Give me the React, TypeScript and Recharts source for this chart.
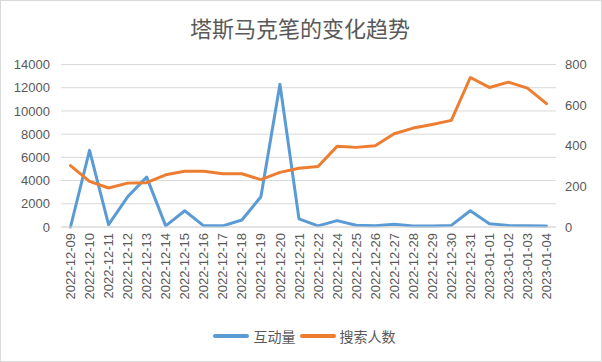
import React from "react";
import {
  LineChart,
  Line,
  XAxis,
  YAxis,
  CartesianGrid,
  Legend,
} from "recharts";

const dates = [
  "2022-12-09", "2022-12-10", "2022-12-11", "2022-12-12", "2022-12-13",
  "2022-12-14", "2022-12-15", "2022-12-16", "2022-12-17", "2022-12-18",
  "2022-12-19", "2022-12-20", "2022-12-21", "2022-12-22", "2022-12-24",
  "2022-12-25", "2022-12-26", "2022-12-27", "2022-12-28", "2022-12-29",
  "2022-12-30", "2022-12-31", "2023-01-01", "2023-01-02", "2023-01-03",
  "2023-01-04",
];

// 互动量 (left axis)
const interactions = [
  0, 6600, 200, 2600, 4300, 100, 1400, 100, 100, 600, 2600, 12300, 700,
  100, 550, 150, 100, 230, 80, 80, 140, 1400, 290, 140, 110, 80,
];

// 搜索人数 (right axis)
const searchers = [
  302, 225, 192, 216, 218, 257, 274, 274, 262, 262, 233, 269, 289,
  298, 397, 392, 400, 459, 487, 505, 525, 736, 687, 713, 684, 607,
];

const leftTicks = [0, 2000, 4000, 6000, 8000, 10000, 12000, 14000];
const rightTicks = [0, 100, 200, 300, 400, 500, 600, 700, 800];

const BLUE = "#5B9BD5";
const ORANGE = "#ED7D31";
const TEXT = "#595959";
const tickFont = { fontFamily: "Liberation Sans", fontSize: 13, fill: TEXT };

const data = dates.map((d, i) => ({
  date: d,
  interactions: interactions[i],
  searchers: searchers[i],
}));

const DateTick = (props: any) => {
  const { x, y, payload } = props;
  return (
    <g transform={`translate(${x},${y - 2})`}>
      <text
        transform="rotate(-90)"
        textAnchor="end"
        dy="0.35em"
        {...tickFont}
      >
        {payload.value}
      </text>
    </g>
  );
};

const LegendContent = () => (
  <div
    style={{
      height: 24,
      display: "flex",
      alignItems: "center",
      justifyContent: "center",
      fontFamily: "Noto Sans CJK SC",
      fontSize: 14,
      color: TEXT,
      paddingLeft: 6,
    }}
  >
    <span
      style={{ width: 36, height: 4, borderRadius: 2, background: BLUE, marginRight: 5 }}
    />
    <span style={{ marginRight: 4 }}>互动量</span>
    <span
      style={{ width: 36, height: 4, borderRadius: 2, background: ORANGE, marginRight: 4 }}
    />
    <span>搜索人数</span>
  </div>
);

const App = () => {
  return (
    <div
      style={{
        position: "absolute",
        left: 0,
        top: 0,
        width: 602,
        height: 362,
        boxSizing: "border-box",
        border: "1px solid #d9d9d9",
        background: "#fff",
      }}
    >
      <div
        style={{
          position: "absolute",
          left: 0,
          top: 15,
          width: 598,
          textAlign: "center",
          fontFamily: "Noto Sans CJK SC",
          fontSize: 22,
          lineHeight: "22px",
          color: TEXT,
        }}
      >
        塔斯马克笔的变化趋势
      </div>
      <LineChart
        width={600}
        height={360}
        data={data}
        margin={{ top: 63.5, right: 0, left: 0, bottom: 13 }}
      >
        <CartesianGrid
          yAxisId="left"
          vertical={false}
          stroke="#d9d9d9"
        />
        <XAxis
          dataKey="date"
          interval={0}
          height={97}
          padding={{ left: 9.5, right: 9.5 }}
          tickLine={false}
          axisLine={{ stroke: "#d9d9d9" }}
          tick={<DateTick />}
        />
        <YAxis
          yAxisId="left"
          orientation="left"
          width={60}
          domain={[0, 14000]}
          ticks={leftTicks}
          tickLine={false}
          axisLine={false}
          tickMargin={5}
          tick={tickFont}
        />
        <YAxis
          yAxisId="right"
          orientation="right"
          width={45}
          domain={[0, 800]}
          ticks={rightTicks}
          tickLine={false}
          axisLine={false}
          tickMargin={3}
          tick={tickFont}
        />
        <Legend verticalAlign="bottom" content={<LegendContent />} />
        <Line
          yAxisId="left"
          type="linear"
          dataKey="interactions"
          name="互动量"
          stroke={BLUE}
          strokeWidth={3}
          strokeLinejoin="round"
          strokeLinecap="round"
          dot={false}
          isAnimationActive={false}
        />
        <Line
          yAxisId="right"
          type="linear"
          dataKey="searchers"
          name="搜索人数"
          stroke={ORANGE}
          strokeWidth={3}
          strokeLinejoin="round"
          strokeLinecap="round"
          dot={false}
          isAnimationActive={false}
        />
      </LineChart>
    </div>
  );
};

export default App;
